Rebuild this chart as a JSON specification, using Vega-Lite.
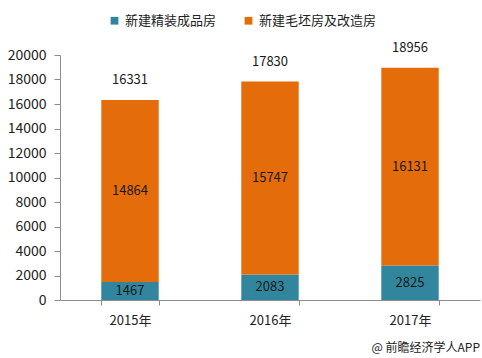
{
  "$schema": "https://vega.github.io/schema/vega-lite/v6.json",
  "width": 420,
  "height": 245,
  "autosize": {"type": "none"},
  "padding": {"left": 60, "top": 55, "right": 2, "bottom": 58},
  "background": "white",
  "config": {
    "view": {"stroke": null},
    "font": "Noto Sans CJK SC",
    "axis": {"labelFont": "Noto Sans CJK SC", "labelColor": "#222222", "labelFontSize": 13, "domainColor": "#8c8c8c", "tickColor": "#8c8c8c", "grid": false, "title": null},
    "axisY": {"labelOverlap": false, "labelFlush": false, "labelBound": false, "labelFontSize": 14},
    "legend": {"labelFont": "Noto Sans CJK SC"}
  },
  "title": {
    "text": "@ 前瞻经济学人APP",
    "orient": "bottom",
    "anchor": "end",
    "fontSize": 12,
    "fontWeight": "normal",
    "color": "#222222",
    "offset": 16
  },
  "data": {
    "values": [
      {"year": "2015年", "series": "新建精装成品房", "order": 1, "value": 1467},
      {"year": "2015年", "series": "新建毛坯房及改造房", "order": 2, "value": 14864},
      {"year": "2016年", "series": "新建精装成品房", "order": 1, "value": 2083},
      {"year": "2016年", "series": "新建毛坯房及改造房", "order": 2, "value": 15747},
      {"year": "2017年", "series": "新建精装成品房", "order": 1, "value": 2825},
      {"year": "2017年", "series": "新建毛坯房及改造房", "order": 2, "value": 16131}
    ]
  },
  "encoding": {
    "x": {
      "field": "year",
      "type": "nominal",
      "scale": {"paddingInner": 0.59, "paddingOuter": 0.295},
      "axis": {"labelAngle": 0, "tickBand": "extent", "tickSize": 5, "labelPadding": 9}
    }
  },
  "layer": [
    {
      "mark": {"type": "bar"},
      "encoding": {
        "y": {
          "field": "value",
          "type": "quantitative",
          "stack": "zero",
          "scale": {"domain": [0, 20000]},
          "axis": {"values": [0, 2000, 4000, 6000, 8000, 10000, 12000, 14000, 16000, 18000, 20000], "format": "d", "labelOverlap": false, "tickSize": 6, "labelPadding": 8}
        },
        "color": {
          "field": "series",
          "type": "nominal",
          "sort": ["新建精装成品房", "新建毛坯房及改造房"],
          "scale": {"domain": ["新建精装成品房", "新建毛坯房及改造房"], "range": ["#31859c", "#e46c0a"]},
          "legend": {
            "orient": "none",
            "direction": "horizontal",
            "legendX": 48,
            "legendY": -41,
            "title": null,
            "symbolType": "square",
            "symbolSize": 60,
            "symbolStrokeWidth": 0,
            "labelFontSize": 13,
            "labelColor": "#222222",
            "columnPadding": 25
          }
        },
        "order": {"field": "order", "type": "quantitative"}
      }
    },
    {
      "transform": [
        {"stack": "value", "groupby": ["year"], "sort": [{"field": "order"}], "as": ["v0", "v1"]},
        {"calculate": "(datum.v0 + datum.v1) / 2", "as": "mid"}
      ],
      "mark": {"type": "text", "fontSize": 13, "color": "#1a1a1a", "baseline": "middle"},
      "encoding": {
        "y": {"field": "mid", "type": "quantitative", "axis": {"values": [0, 2000, 4000, 6000, 8000, 10000, 12000, 14000, 16000, 18000, 20000], "format": "d", "labelOverlap": false, "tickSize": 6, "labelPadding": 8}},
        "text": {"field": "value", "type": "quantitative", "format": "d"}
      }
    },
    {
      "mark": {"type": "text", "fontSize": 13, "color": "#1a1a1a", "baseline": "middle", "dy": -20},
      "encoding": {
        "y": {"aggregate": "sum", "field": "value", "type": "quantitative", "axis": {"values": [0, 2000, 4000, 6000, 8000, 10000, 12000, 14000, 16000, 18000, 20000], "format": "d", "labelOverlap": false, "tickSize": 6, "labelPadding": 8}},
        "text": {"aggregate": "sum", "field": "value", "type": "quantitative", "format": "d"}
      }
    }
  ]
}
